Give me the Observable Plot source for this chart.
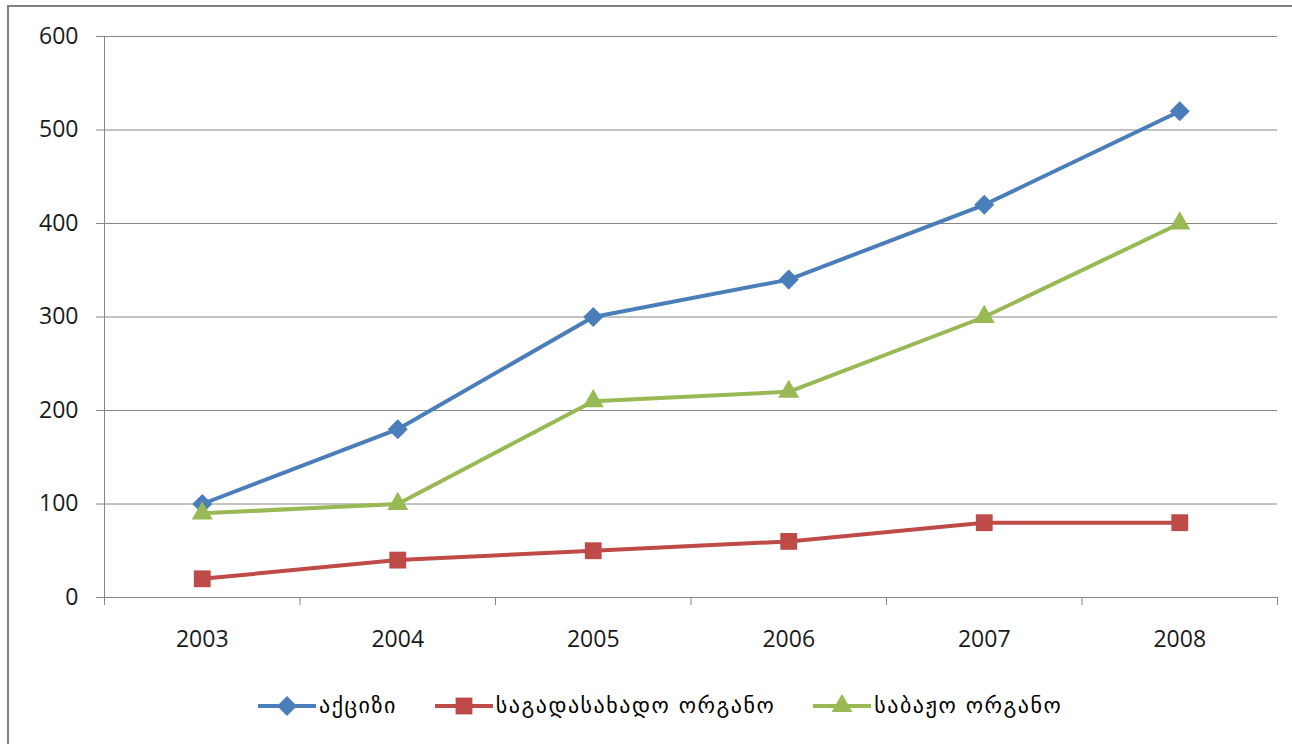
<!DOCTYPE html>
<html>
<head>
<meta charset="utf-8">
<script src="https://cdn.jsdelivr.net/npm/d3@7"></script>
<script src="https://cdn.jsdelivr.net/npm/@observablehq/plot@0.6"></script>
<style>
  html, body { margin: 0; padding: 0; background: #fff; overflow: hidden; }
  #frame { position: absolute; left: 7px; top: 5px; width: 1300px; height: 760px;
           border-left: 2px solid #808080; border-top: 2px solid #808080; }
  #chart { position: absolute; left: 0; top: 0; }
  #legend { position: absolute; top: 693px; left: 258px; display: flex; align-items: center; gap: 38px;
            font-family: "DejaVu Sans", sans-serif; font-size: 22px; letter-spacing: 1.5px; color: #000; }
  .item { display: flex; align-items: center; gap: 3px; }
</style>
</head>
<body>
<div id="frame"></div>
<div id="chart"></div>
<div id="legend"></div>
<script>
// Years on the category axis
const years = [2003, 2004, 2005, 2006, 2007, 2008];
// Series names (Georgian) and values per year
const seriesNames = ["აქციზი", "საგადასახადო ორგანო", "საბაჟო ორგანო"];
const excise   = [100, 180, 300, 340, 420, 520];
const taxBody  = [20, 40, 50, 60, 80, 80];
const customs  = [90, 100, 210, 220, 300, 400];
const yTicks = [0, 100, 200, 300, 400, 500, 600];

const colors = ["#4a7ebb", "#be4b48", "#98b954"];
const valuesBySeries = [excise, taxBody, customs];

const rows = [];
seriesNames.forEach((s, i) => years.forEach((yr, j) => rows.push({series: s, year: yr, value: valuesBySeries[i][j]})));

// category boundaries for the tick marks between years
const bounds = years.map(y => y - 0.5).concat([years[years.length - 1] + 0.5]);

const axisColor = "#868686";
const font = "'Open Sans', sans-serif";

const markers = [
  {symbol: "square", r: 8, rotate: 45},
  {symbol: "square", r: 9.5, rotate: 0},
  {symbol: "triangle", r: 7.8, rotate: 0}
];

const chart = Plot.plot({
  width: 1292,
  height: 670,
  marginLeft: 104,
  marginRight: 15,
  marginTop: 36,
  marginBottom: 73,
  style: {fontFamily: font, fontSize: "23px", color: "#1a1a1a", background: "transparent"},
  x: {domain: [bounds[0], bounds[bounds.length - 1]]},
  y: {domain: [0, 600]},
  color: {domain: seriesNames, range: colors},
  marks: [
    Plot.gridY(yTicks, {stroke: axisColor, strokeOpacity: 1, strokeWidth: 1}),
    Plot.ruleX([bounds[0]], {stroke: axisColor, strokeWidth: 1}),
    Plot.ruleY([0], {stroke: axisColor, strokeWidth: 1}),
    Plot.axisY(yTicks, {tickSize: 8, tickPadding: 18, stroke: axisColor, label: null, tickFormat: d => String(d), fill: "#1a1a1a"}),
    Plot.axisX(bounds, {tickSize: 8, stroke: axisColor, label: null, tickFormat: () => ""}),
    Plot.axisX(years, {tickSize: 0, tickPadding: 33, label: null, tickFormat: d => String(d), fill: "#1a1a1a"}),
    Plot.line(rows, {x: "year", y: "value", z: "series", stroke: "series", strokeWidth: 4, strokeLinejoin: "round"}),
    ...seriesNames.map((s, i) => Plot.dot(rows.filter(d => d.series === s), {
      x: "year", y: "value", symbol: markers[i].symbol, r: markers[i].r, rotate: markers[i].rotate,
      fill: colors[i], stroke: null
    }))
  ]
});
document.getElementById("chart").appendChild(chart);

// Legend below the plot
const legend = d3.select("#legend");
seriesNames.forEach((s, i) => {
  const item = legend.append("div").attr("class", "item");
  const svg = item.append("svg").attr("width", 58).attr("height", 24);
  svg.append("line").attr("x1", 0).attr("x2", 58).attr("y1", 12).attr("y2", 12)
     .attr("stroke", colors[i]).attr("stroke-width", 4);
  const sym = markers[i].symbol === "triangle" ? d3.symbolTriangle : d3.symbolSquare;
  svg.append("path")
     .attr("d", d3.symbol(sym, Math.PI * markers[i].r * markers[i].r)())
     .attr("transform", `translate(29,12) rotate(${markers[i].rotate})`)
     .attr("fill", colors[i]);
  item.append("span").text(s);
});
</script>
</body>
</html>
